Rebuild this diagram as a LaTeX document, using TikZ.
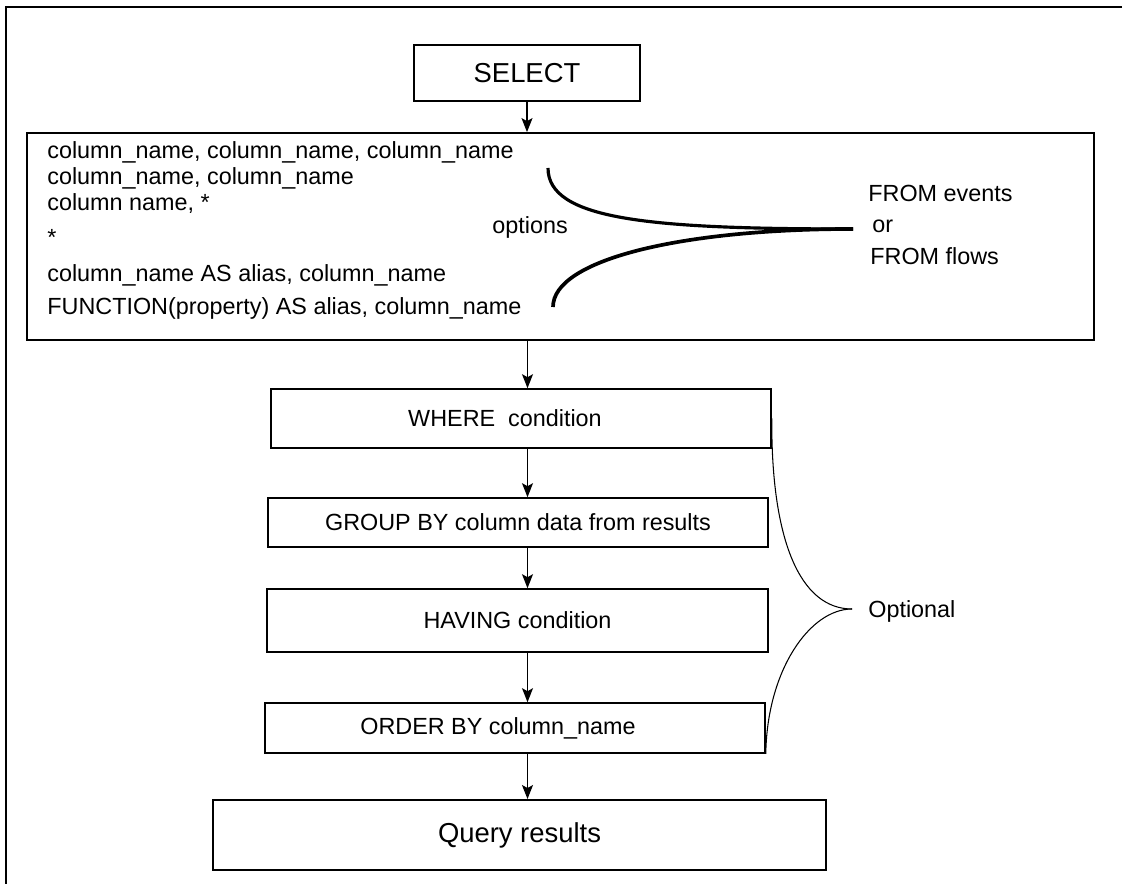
\documentclass[tikz,border=0pt]{standalone}
\usepackage{fontspec}
\setmainfont{Liberation Sans}
\usetikzlibrary{arrows.meta}

\begin{document}
\begin{tikzpicture}[
		font=\fontsize{13.3}{16}\selectfont,
		stage/.style={draw, line width=0.9pt, inner sep=0pt},
		big/.style={font=\fontsize{15.6}{18}\selectfont},
		flow/.style={-{Stealth[length=0.28cm, width=0.22cm, inset=0.06cm]}, line width=0.7pt},
		txt/.style={anchor=base west, inner sep=0pt}
	]
			%%%%% START %%%%%
			
			\useasboundingbox (0, 0) rectangle (22.46, 17.68);
			\draw[line width=1.1pt] (22.44, 17.54) -- (0.12, 17.54) -- (0.12, 0);
			
			\coordinate (spine) at (10.55, 0);
			
			\node[stage, big, minimum width=4.52cm, minimum height=1.12cm] (select) at (10.54, 16.22) {SELECT};
			
			\node[stage, line width=1pt, minimum width=21.34cm, minimum height=4.14cm] (cols) at (11.21, 12.95) {};
			\node[txt] (l1) at (0.94, 14.50) {column\_name, column\_name, column\_name};
			\node[txt] (l2) at (0.94, 13.98) {column\_name, column\_name};
			\node[txt] (l3) at (0.94, 13.47) {column name, *};
			\node[txt] (l4) at (0.94, 12.76) {*};
			\node[txt] (l5) at (0.94, 12.04) {column\_name AS alias, column\_name};
			\node[txt] (l6) at (0.94, 11.38) {FUNCTION(property) AS alias, column\_name};
			\node[txt] (opts) at (9.84, 13.00) {options};
			
			\coordinate (fromtop) at (10.96, 14.32);
			\coordinate (frombot) at (11.06, 11.54);
			\coordinate (fromtip) at (17.06, 13.10);
			\draw[line width=1.8pt] (fromtop) .. controls (10.96, 13.28) and (13.0, 13.10) .. (fromtip);
			\draw[line width=2.1pt] (frombot) .. controls (11.06, 12.48) and (13.6, 13.10) .. (fromtip);
			\node[txt] (from1) at (17.36, 13.64) {FROM events};
			\node[txt] (fromor) at (17.44, 13.02) {or};
			\node[txt] (from2) at (17.40, 12.38) {FROM flows};
			
			\node[stage, minimum width=10cm, minimum height=1.18cm,
				label={[xshift=-0.32cm]center:WHERE\ \ condition}] (where) at (10.42, 9.31) {};
			\node[stage, minimum width=10cm, minimum height=0.98cm] (group) at (10.36, 7.23) {GROUP BY column data from results};
			\node[stage, minimum width=10.02cm, minimum height=1.26cm] (having) at (10.35, 5.27) {HAVING condition};
			\node[stage, minimum width=10cm, minimum height=1cm,
				label={[xshift=-0.34cm]center:ORDER BY column\_name}] (order) at (10.30, 3.12) {};
			\node[stage, big, line width=1.1pt, minimum width=12.26cm, minimum height=1.4cm] (query) at (10.39, 0.98) {Query results};
			
			\draw[flow] (select.south) -- (select.south |- cols.north);
			\draw[flow] (cols.south -| spine) -- (where.north -| spine);
			\draw[flow] (where.south -| spine) -- (group.north -| spine);
			\draw[flow] (group.south -| spine) -- (having.north -| spine);
			\draw[flow] (having.south -| spine) -- (order.north -| spine);
			\draw[flow] (order.south -| spine) -- (query.north -| spine);
			
			\coordinate (opttip) at (17.04, 5.50);
			\draw[line width=0.6pt] (where.east) .. controls (15.42, 6.88) and (16.0, 5.5) .. (opttip);
			\draw[line width=0.6pt] (opttip) .. controls (16.2, 5.5) and (15.34, 4.28) .. (order.south east);
			\node[txt] (opt) at (17.36, 5.32) {Optional};
			
			%%%%% END %%%%%
\end{tikzpicture}
\end{document}
